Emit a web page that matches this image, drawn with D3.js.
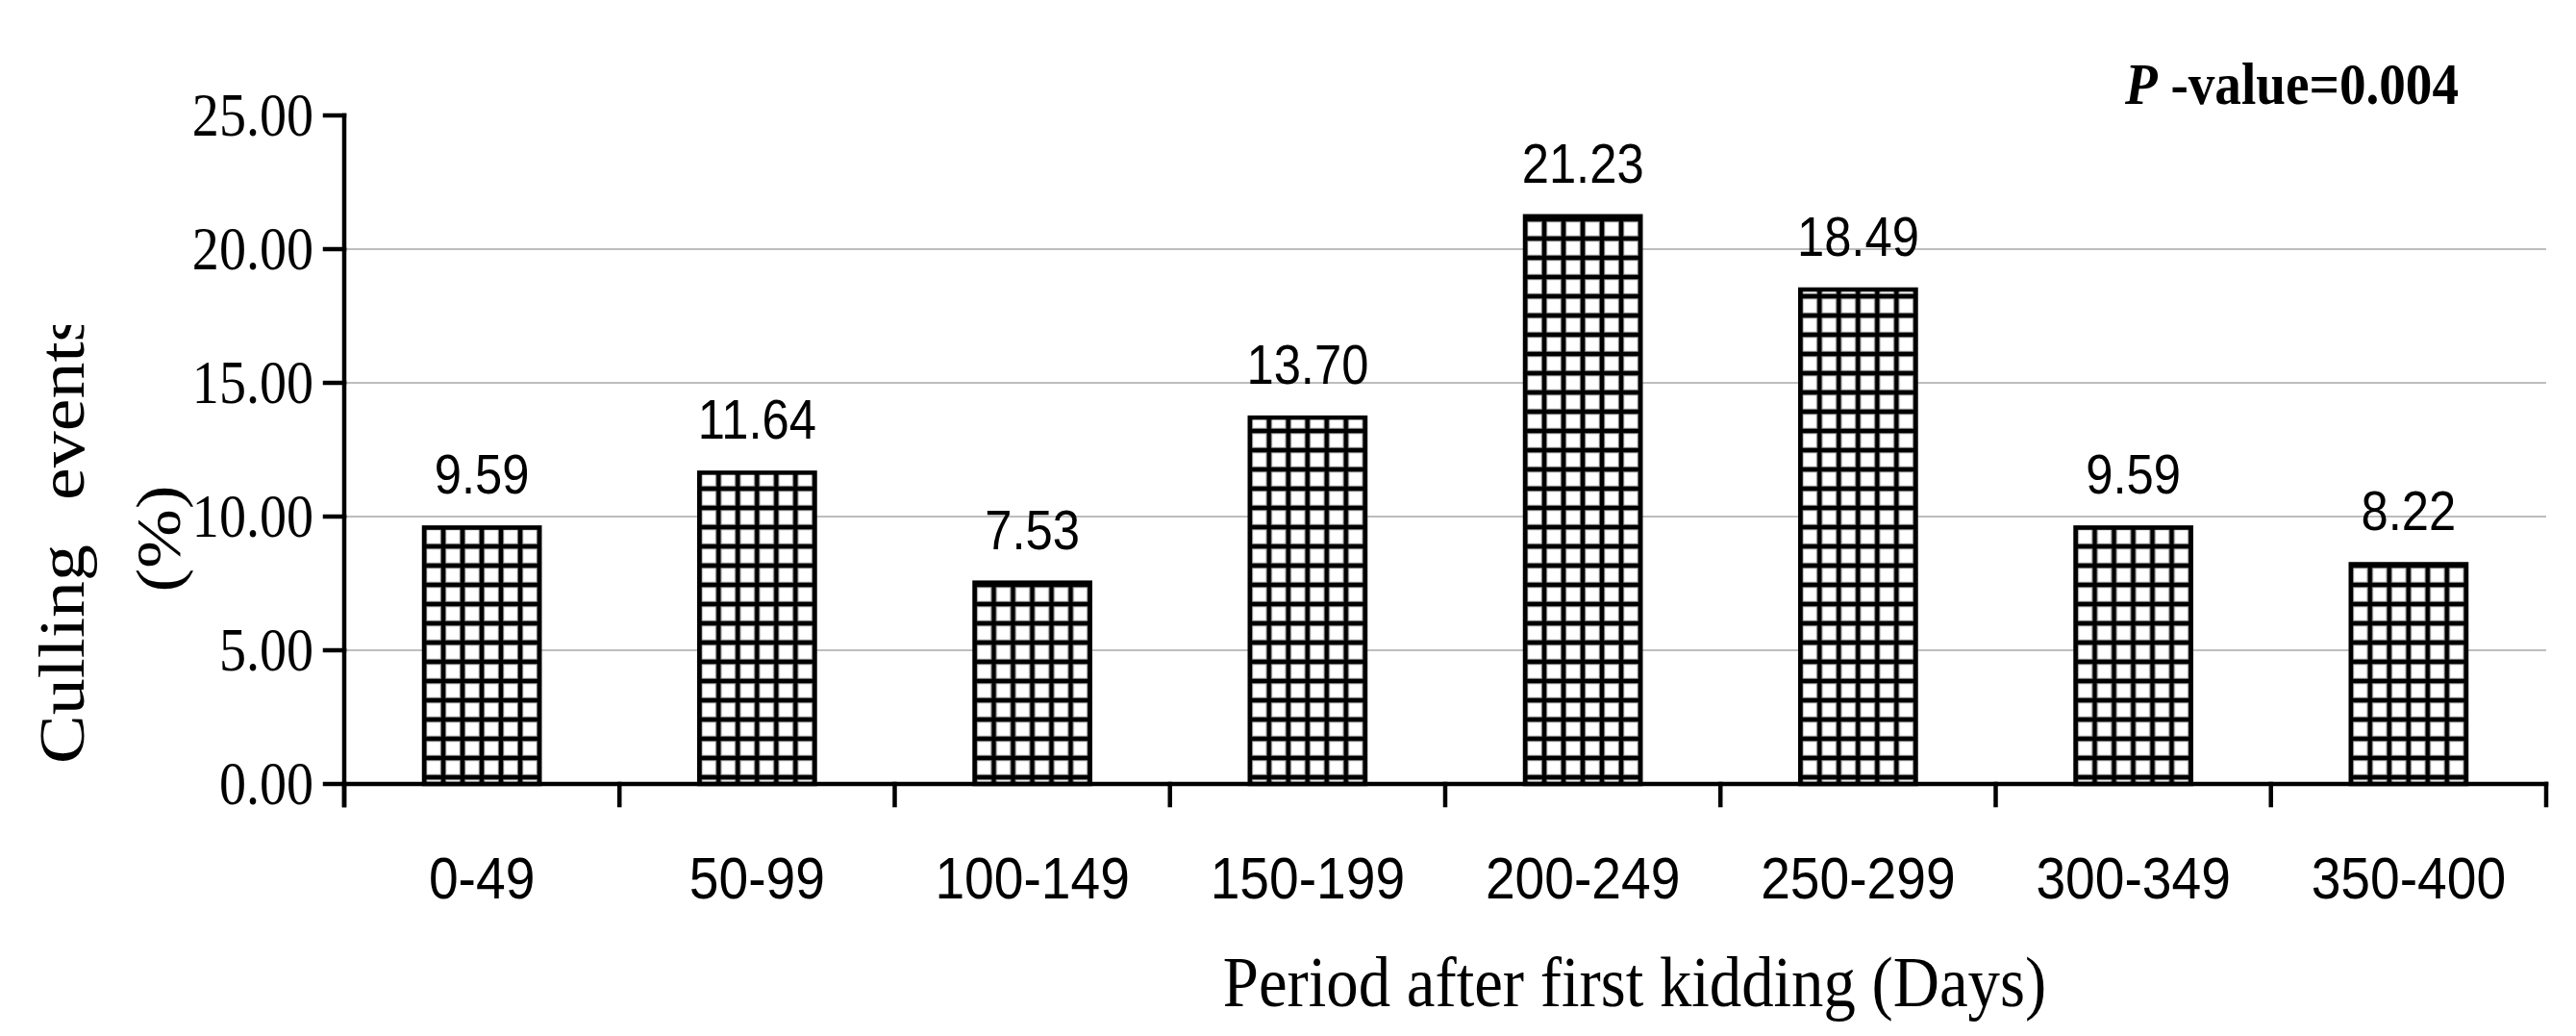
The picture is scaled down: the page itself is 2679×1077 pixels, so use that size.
<!DOCTYPE html>
<html><head><meta charset="utf-8">
<script src="https://cdn.jsdelivr.net/npm/d3@7"></script>
<style>html,body{margin:0;padding:0;background:#fff;} svg{display:block}</style>
</head><body>
<script>
const categories = ["0-49","50-99","100-149","150-199","200-249","250-299","300-349","350-400"];
const values = [9.59,11.64,7.53,13.70,21.23,18.49,9.59,8.22];
const valueLabels = ["9.59","11.64","7.53","13.70","21.23","18.49","9.59","8.22"];
const yTicks = [0,5,10,15,20,25];
const gridTicks = [5,10,15,20];
const xTitle = "Period after first kidding (Days)";
const yTitleWords = ["Culling", "events"];
const yTitleLine2 = "(%)";
const pItalic = "P";
const pRest = " -value=0.004";

(function () {
const W = 2679, H = 1077;
const mLeft = 358, mRight = 2648, mBottom = 815, mTop = 120;
const SX = 0.89;
const serif = "'Liberation Serif','Times New Roman',Times,serif";
const sans = "'Liberation Sans',Arial,Helvetica,sans-serif";

const svg = d3.select("body").append("svg").attr("width", W).attr("height", H);
svg.append("rect").attr("width", W).attr("height", H).attr("fill", "#fff");

const x = d3.scaleBand().domain(categories).range([mLeft, mRight]).paddingInner(0.58).paddingOuter(0.29);
const y = d3.scaleLinear().domain([0, 25]).range([mBottom, mTop]);

function cond(sel, tx, ty) {
  return sel.attr("transform", `translate(${tx},${ty}) scale(${SX},1)`);
}

const defs = svg.append("defs");
categories.forEach((c, i) => {
  const p = defs.append("pattern").attr("id", "pat" + i)
    .attr("patternUnits", "userSpaceOnUse")
    .attr("x", x(c)).attr("y", 8).attr("width", 20).attr("height", 20);
  p.append("rect").attr("width", 20).attr("height", 20).attr("fill", "#fff");
  [["#a0a0a0", 6.5], ["#000", 4.5]].forEach(([col, sw]) => {
    [0, 20].forEach(o => {
      p.append("line").attr("x1", o).attr("x2", o).attr("y1", 0).attr("y2", 20).attr("stroke", col).attr("stroke-width", sw);
      p.append("line").attr("y1", o).attr("y2", o).attr("x1", 0).attr("x2", 20).attr("stroke", col).attr("stroke-width", sw);
    });
  });
});

svg.append("g").selectAll("line").data(gridTicks).join("line")
  .attr("x1", mLeft).attr("x2", mRight)
  .attr("y1", d => y(d)).attr("y2", d => y(d))
  .attr("stroke", "#bdbdbd").attr("stroke-width", 2);

svg.append("g").selectAll("rect").data(values).join("rect")
  .attr("x", (d, i) => x(categories[i]))
  .attr("y", d => y(d))
  .attr("width", x.bandwidth())
  .attr("height", d => mBottom - y(d))
  .attr("fill", (d, i) => `url(#pat${i})`)
  .attr("stroke", "#000").attr("stroke-width", 4.5);

const ax = svg.append("g").attr("stroke", "#000").attr("stroke-width", 4.5).attr("stroke-linecap", "square");
ax.append("line").attr("x1", mLeft).attr("x2", mLeft).attr("y1", y(25)).attr("y2", mBottom + 22);
ax.append("line").attr("x1", mLeft).attr("x2", mRight).attr("y1", mBottom).attr("y2", mBottom);
yTicks.forEach(t => {
  ax.append("line").attr("x1", mLeft - 20).attr("x2", mLeft).attr("y1", y(t)).attr("y2", y(t));
});
d3.range(categories.length + 1).forEach(k => {
  const xx = mLeft + k * x.step();
  ax.append("line").attr("x1", xx).attr("x2", xx).attr("y1", mBottom).attr("y2", mBottom + 22);
});

yTicks.forEach(t => {
  cond(svg.append("text"), mLeft - 32, y(t) + 21)
    .attr("text-anchor", "end").attr("font-family", serif).attr("font-size", 63)
    .attr("fill", "#000").text(d3.format(".2f")(t));
});

categories.forEach(c => {
  cond(svg.append("text"), x(c) + x.bandwidth() / 2, 934)
    .attr("text-anchor", "middle").attr("font-family", sans).attr("font-size", 62)
    .attr("fill", "#000").text(c);
});

values.forEach((v, i) => {
  cond(svg.append("text"), x(categories[i]) + x.bandwidth() / 2, y(v) - 35)
    .attr("text-anchor", "middle").attr("font-family", sans).attr("font-size", 57)
    .attr("fill", "#000").text(valueLabels[i]);
});

cond(svg.append("text"), (mLeft + mRight) / 2 + 197, 1046)
  .attr("text-anchor", "middle").attr("font-family", serif).attr("font-size", 75)
  .attr("fill", "#000").text(xTitle);

defs.append("clipPath").attr("id", "yclip").append("rect")
  .attr("x", 0).attr("y", 338).attr("width", 260).attr("height", 600);
const yt = svg.append("g").attr("clip-path", "url(#yclip)");
const y1 = yt.append("text")
  .attr("transform", `translate(87,794) rotate(-90) scale(1,${SX})`)
  .attr("text-anchor", "start").attr("font-family", serif).attr("font-size", 76)
  .attr("fill", "#000");
y1.append("tspan").text(yTitleWords[0]);
y1.append("tspan").attr("dx", 46).text(yTitleWords[1]);
yt.append("text")
  .attr("transform", `translate(187,560) rotate(-90) scale(1,${SX})`)
  .attr("text-anchor", "middle").attr("font-family", serif).attr("font-size", 74)
  .attr("fill", "#000").text(yTitleLine2);

const pt = cond(svg.append("text"), 2557, 108)
  .attr("text-anchor", "end").attr("font-family", serif).attr("font-size", 62)
  .attr("font-weight", "bold").attr("fill", "#000");
pt.append("tspan").attr("font-style", "italic").text(pItalic);
pt.append("tspan").text(pRest);
})();
</script>
</body></html>
